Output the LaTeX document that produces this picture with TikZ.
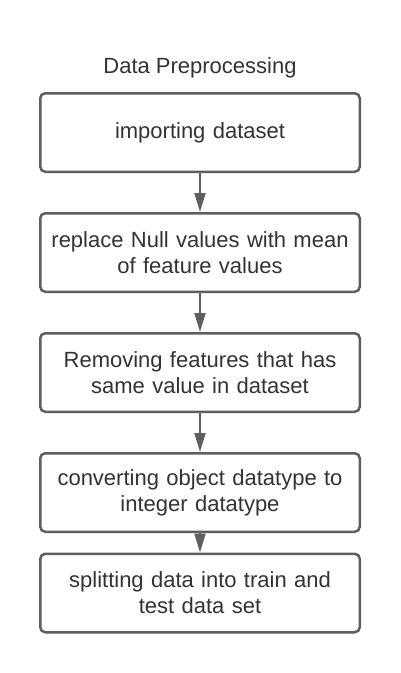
\documentclass[tikz,border=0pt]{standalone}
\usepackage{fontspec}
\setmainfont{Liberation Sans}
\usetikzlibrary{arrows.meta}
\definecolor{edgegray}{HTML}{5E5E5E}
\definecolor{txtgray}{HTML}{333333}
\begin{document}
\begin{tikzpicture}[x=1pt,y=1pt,
  stepbox/.style={draw=edgegray,line width=2.5pt,rounded corners=5pt,fill=white,
    minimum width=319.5pt,minimum height=78.5pt,text width=300pt,align=center,
    font=\fontsize{22}{26}\selectfont,text=txtgray,inner sep=0pt},
  flow/.style={draw=edgegray,line width=2pt,-{Triangle[length=19pt,width=11pt]}}]
\useasboundingbox (0,0) rectangle (400,-673);
\node[font=\fontsize{22}{26}\selectfont,text=txtgray] (title) at (200,-68) {Data Preprocessing};
\node[stepbox] (b1) at (200,-132.5) {importing dataset};
\node[stepbox] (b2) at (200,-252.5) {replace Null values with mean\\of feature values};
\node[stepbox] (b3) at (200,-372.5) {Removing features that has\\same value in dataset};
\node[stepbox] (b4) at (200,-492.5) {converting object datatype to\\integer datatype};
\node[stepbox] (b5) at (200,-593) {splitting data into train and\\test data set};
\draw[flow] (b1.south) -- (b2.north);
\draw[flow] (b2.south) -- (b3.north);
\draw[flow] (b3.south) -- (b4.north);
\draw[flow] (b4.south) -- (b5.north);
\end{tikzpicture}
\end{document}
